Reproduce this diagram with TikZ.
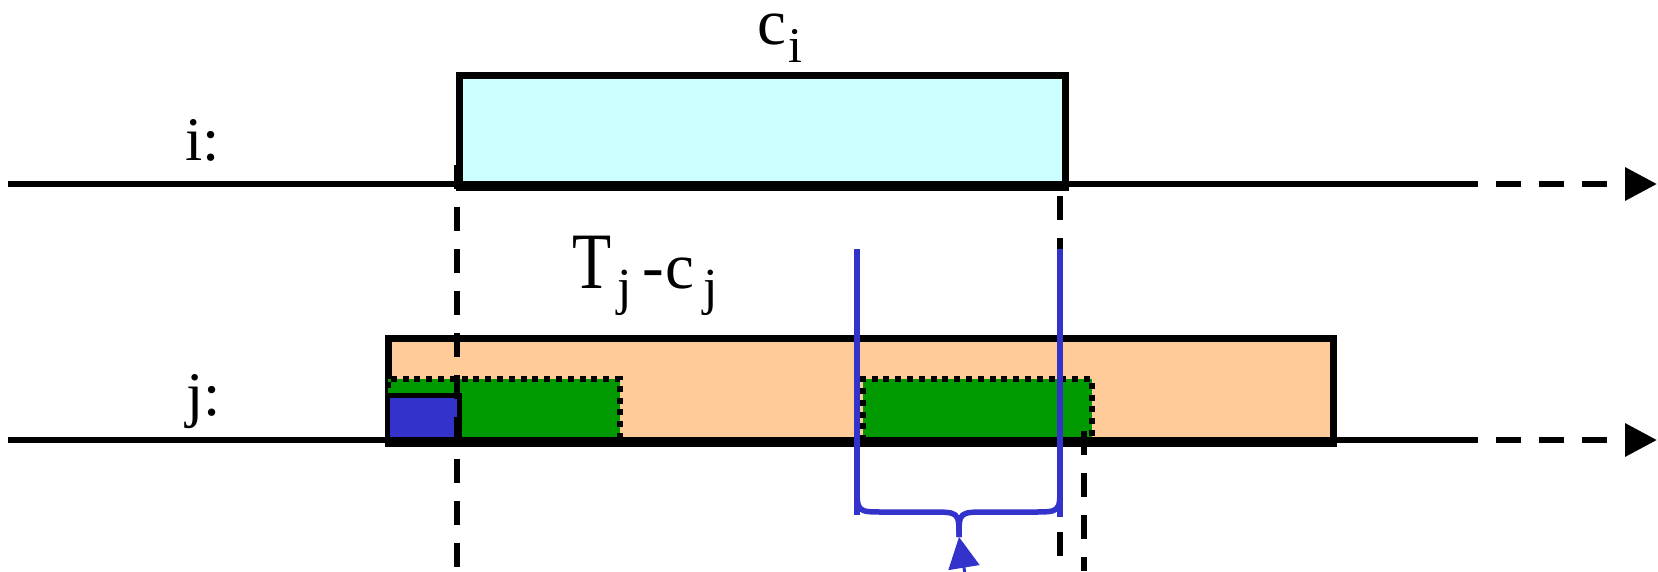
\documentclass[tikz,border=0pt]{standalone}
\usepackage{fontspec}
\setmainfont{Liberation Serif}
\usetikzlibrary{arrows.meta}
\definecolor{cyanfill}{RGB}{204,255,255}
\definecolor{orangefill}{RGB}{255,204,153}
\definecolor{greenfill}{RGB}{0,153,0}
\definecolor{bluefill}{RGB}{51,51,204}
\tikzset{
  axis/.style={line width=6.5pt, black},
  axisdash/.style={line width=6.5pt, black, dash pattern=on 25pt off 18pt, -{Triangle[length=32pt,width=32pt]}},
  boxline/.style={line width=6.5pt, draw=black},
  vdash/.style={line width=6pt, black, dash pattern=on 24pt off 18pt},
  dotbox/.style={fill=greenfill, draw=black, line width=6pt, dash pattern=on 6pt off 5.8pt},
  blueline/.style={line width=5.5pt, draw=bluefill},
  lab/.style={anchor=base west, inner sep=0pt, outer sep=0pt}
}
\begin{document}
\begin{tikzpicture}[x=1pt,y=-1pt]
\useasboundingbox (0,0) rectangle (1658,571);
\clip (0,0) rectangle (1658,571);
% coordinates
\coordinate (iL) at (8,184);
\coordinate (iM) at (1478,184);
\coordinate (iE) at (1657,184);
\coordinate (jL) at (8,440);
\coordinate (jM) at (1478,440);
\coordinate (jE) at (1657,440);
% orange box
\node[boxline, fill=orangefill, minimum width=945pt, minimum height=105pt, inner sep=0pt, anchor=north west] (orange) at (385,335) {};
% green rects
\node[dotbox, minimum width=232pt, minimum height=64pt, inner sep=0pt, anchor=north west] (g1) at (385,376) {};
\node[dotbox, minimum width=229pt, minimum height=64pt, inner sep=0pt, anchor=north west] (g2) at (860,376) {};
% blue box
\node[draw=black, line width=5pt, fill=bluefill, minimum width=72pt, minimum height=47pt, inner sep=0pt, anchor=north west] (bl) at (385,393) {};
% cyan box
\node[boxline, fill=cyanfill, minimum width=606pt, minimum height=112pt, inner sep=0pt, anchor=north west] (cyan) at (456,72) {};
% axes
\draw[axis] (iL) -- (iM);
\draw[axisdash] (iM) ++(18,0) coordinate (iD) (iD) -- (iE);
\draw[axis] (jL) -- (jM);
\draw[axisdash] (jM) ++(18,0) coordinate (jD) (jD) -- (jE);
% dashed verticals
\coordinate (v1a) at (457,165);
\coordinate (v1b) at (457,571);
\coordinate (v2a) at (1060,196);
\coordinate (v2b) at (1060,571);
\coordinate (v3a) at (1084,431);
\coordinate (v3b) at (1084,571);
\draw[vdash] (v1a) -- (v1b);
\draw[vdash] (v2a) -- (v2b);
\draw[vdash] (v3a) -- (v3b);
% blue lines and brace
\coordinate (b1a) at (857,249);
\coordinate (b1b) at (857,515);
\coordinate (b2a) at (1060,249);
\coordinate (b2b) at (1060,517);
\coordinate (cusp) at (959,537);
\draw[blueline] (b1a) -- (b1b);
\draw[blueline] (b2a) -- (b2b);
\draw[blueline] (857,485) .. controls (857,512) .. (884,512) -- (930,512) .. controls (959,512) .. (cusp);
\draw[blueline] (1060,485) .. controls (1060,512) .. (1033,512) -- (988,512) .. controls (959,512) .. (cusp);
\coordinate (arrstart) at (966,580);
\draw[draw=bluefill, line width=3pt, -{Triangle[length=31pt,width=31pt]}, color=bluefill] (arrstart) -- (cusp);
% labels
\node[lab, font=\fontsize{62}{62}\selectfont] (ilab) at (185,160) {i:};
\node[lab, font=\fontsize{62}{62}\selectfont] (jlab) at (186,415) {j:};
\node[lab] (ci) at (757,44) {\fontsize{65}{65}\selectfont c\kern 3pt\raisebox{-18pt}{\fontsize{50}{50}\selectfont i}};
\node[lab] (tj) at (572,288) {\scalebox{0.8}[1]{\fontsize{80}{80}\selectfont T}\kern 6pt\raisebox{-16pt}{\fontsize{52}{52}\selectfont j}\kern 11pt{\fontsize{65}{65}\selectfont -\kern 1pt c}\kern 9pt\raisebox{-16pt}{\fontsize{52}{52}\selectfont j}};
\end{tikzpicture}
\end{document}
